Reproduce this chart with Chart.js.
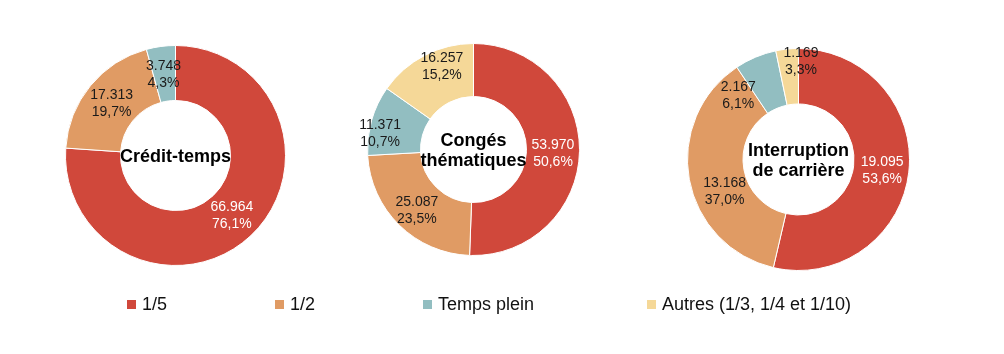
<!DOCTYPE html>
<html>
<head>
<meta charset="utf-8">
<script src="https://cdn.jsdelivr.net/npm/chart.js@4"></script>
<style>
  body { margin: 0; width: 1004px; height: 354px; background: #fff; position: relative; overflow: hidden; font-family: "Liberation Sans", Arial, sans-serif; }
  .pie { position: absolute; }
  .legend-item { position: absolute; top: 294px; font-size: 18px; color: #111; white-space: nowrap; line-height: 20px; }
  .legend-item i { display: inline-block; width: 9px; height: 9px; margin-right: 6px; vertical-align: 1px; }
</style>
</head>
<body>
<div class="pie" id="wrap0"><canvas id="pie0"></canvas></div>
<div class="pie" id="wrap1"><canvas id="pie1"></canvas></div>
<div class="pie" id="wrap2"><canvas id="pie2"></canvas></div>
<div id="legend"></div>

<script>
// categories shared by all three doughnuts
const categories = ['1/5', '1/2', 'Temps plein', 'Autres (1/3, 1/4 et 1/10)'];
const colors = ['#D0483B', '#E09B64', '#92BEC1', '#F5D898'];

// one array per chart (Crédit-temps has no "Autres")
const creditTemps = [66964, 17313, 3748];
const congesThematiques = [53970, 25087, 11371, 16257];
const interruptionCarriere = [19095, 13168, 2167, 1169];

const titles = [['Crédit-temps'], ['Congés', 'thématiques'], ['Interruption', 'de carrière']];

// layout of each doughnut: center x, center y, radius
const layout = [[175.5, 155, 110], [473.5, 149, 106], [798, 159, 111]];
const pad = 30; // room around the ring so labels are not clipped

// small nudges so labels sit where the original put them
const labelNudge = [
    [[0, 0], [0, 0], [-1, 1]],
    [[0, 3], [-1, 4], [-17, 6], [5, -12]],
    [[1, 2], [8, 17], [-28, 13], [11, -15]]
];

const legendX = [127, 275, 423, 647];

function fmt(n) {
    return String(n).replace(/\B(?=(\d{3})+(?!\d))/g, '.');
}

// draws value + percentage inside each slice, and the title in the hole
const sliceLabels = {
    id: 'sliceLabels',
    afterDatasetsDraw(chart, args, opts) {
        const ctx = chart.ctx;
        const meta = chart.getDatasetMeta(0);
        const data = chart.data.datasets[0].data;
        const total = data.reduce((a, b) => a + b, 0);
        ctx.save();
        ctx.textAlign = 'center';
        ctx.textBaseline = 'middle';
        ctx.font = '14px "Liberation Sans", Arial, sans-serif';
        meta.data.forEach((arc, i) => {
            const p = arc.tooltipPosition();
            const n = opts.nudge[i] || [0, 0];
            const pct = (data[i] / total * 100).toFixed(1).replace('.', ',') + '%';
            ctx.fillStyle = i === 0 ? '#ffffff' : '#1a1a1a';
            ctx.fillText(fmt(data[i]), p.x + n[0], p.y + n[1] - 8.5);
            ctx.fillText(pct, p.x + n[0], p.y + n[1] + 8.5);
        });
        // center title
        const c = meta.data[0];
        ctx.font = 'bold 18px "Liberation Sans", Arial, sans-serif';
        ctx.fillStyle = '#000';
        const lines = opts.title;
        lines.forEach((t, k) => {
            ctx.fillText(t, c.x, c.y + 2 + (k - (lines.length - 1) / 2) * 20);
        });
        ctx.restore();
    }
};

const allData = [creditTemps, congesThematiques, interruptionCarriere];

allData.forEach((values, idx) => {
    const [cx, cy, r] = layout[idx];
    const size = 2 * r + 1 + 2 * pad;
    const wrap = document.getElementById('wrap' + idx);
    wrap.style.left = (cx - size / 2) + 'px';
    wrap.style.top = (cy - size / 2) + 'px';
    wrap.style.width = size + 'px';
    wrap.style.height = size + 'px';

    new Chart(document.getElementById('pie' + idx), {
        type: 'doughnut',
        data: {
            labels: categories.slice(0, values.length),
            datasets: [{
                data: values,
                backgroundColor: colors.slice(0, values.length),
                borderColor: '#ffffff',
                borderWidth: 1,
                hoverOffset: 0
            }]
        },
        options: {
            responsive: true,
            maintainAspectRatio: false,
            animation: false,
            cutout: '50%',
            layout: { padding: pad },
            plugins: {
                legend: { display: false },
                tooltip: { enabled: false },
                sliceLabels: { nudge: labelNudge[idx], title: titles[idx] }
            }
        },
        plugins: [sliceLabels]
    });
});

// legend row
const legend = document.getElementById('legend');
categories.forEach((cat, i) => {
    const item = document.createElement('div');
    item.className = 'legend-item';
    item.style.left = legendX[i] + 'px';
    item.innerHTML = '<i style="background:' + colors[i] + '"></i>' + cat;
    legend.appendChild(item);
});
</script>
</body>
</html>
